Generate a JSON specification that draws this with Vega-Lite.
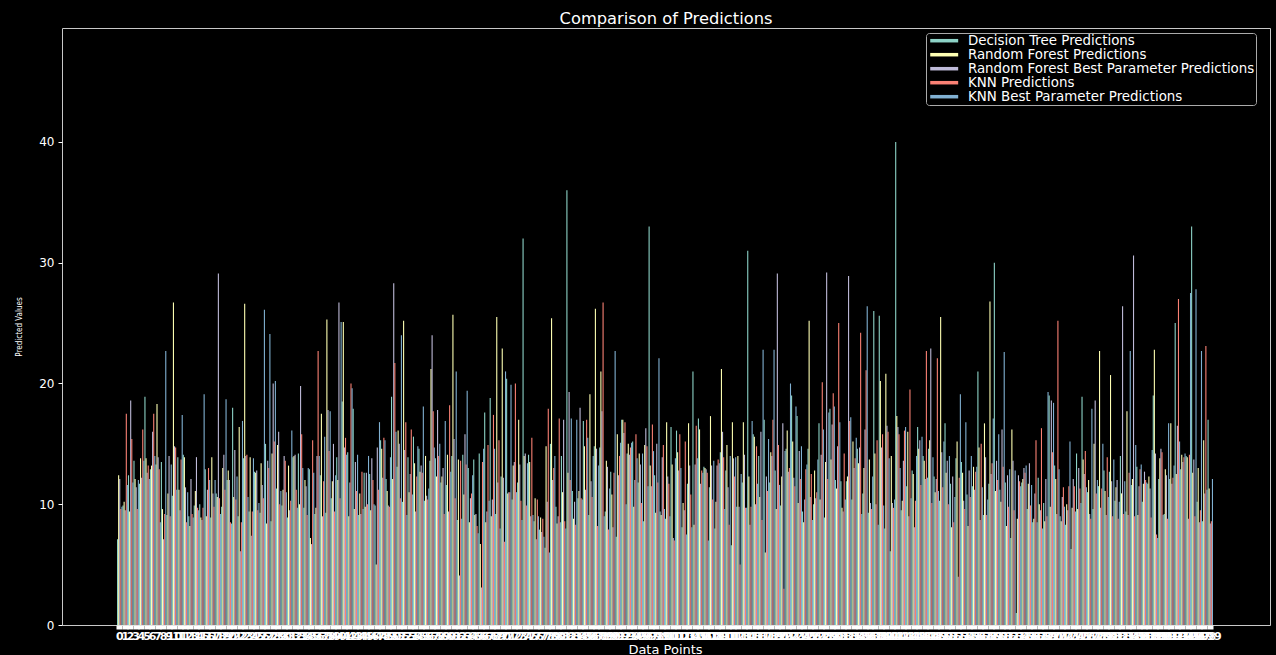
{
"$schema": "https://vega.github.io/schema/vega-lite/v6.json",
"width": 1208, "height": 597,
"autosize": {"type": "none"},
"padding": {"left": 62, "top": 28, "right": 6, "bottom": 30},
"background": "black",
"config": {"view": {"stroke": "#c8c8c8", "strokeWidth": 1, "fill": "black"}, "font": "DejaVu Sans"},
"title": {"text": "Comparison of Predictions", "color": "white", "fontSize": 16.3, "fontWeight": "normal", "offset": 1, "font": "DejaVu Sans"},
"data": {"values": [
{"i":0,"a":7.1,"b":12.4,"c":12.1,"d":9.6,"e":9.8},
{"i":1,"a":9.9,"b":10.2,"c":9.5,"d":17.5,"e":11.6},
{"i":2,"a":12.4,"b":9.4,"c":18.6,"d":15.4,"e":11.8},
{"i":3,"a":13.6,"b":12.1,"c":11.4,"d":9.6,"e":12.0},
{"i":4,"a":11.7,"b":13.8,"c":12.2,"d":16.2,"e":13.6},
{"i":5,"a":18.9,"b":13.8,"c":12.6,"d":13.2,"e":12.1},
{"i":6,"a":12.9,"b":13.2,"c":16.0,"d":17.5,"e":14.0},
{"i":7,"a":13.3,"b":18.3,"c":13.9,"d":12.9,"e":8.5},
{"i":8,"a":13.5,"b":9.6,"c":7.1,"d":9.2,"e":22.7},
{"i":9,"a":9.1,"b":10.9,"c":14.0,"d":9.0,"e":13.3},
{"i":10,"a":10.7,"b":26.7,"c":14.8,"d":14.7,"e":11.2},
{"i":11,"a":13.9,"b":11.2,"c":9.5,"d":13.7,"e":17.4},
{"i":12,"a":14.1,"b":13.9,"c":11.4,"d":8.5,"e":11.0},
{"i":13,"a":9.0,"b":8.2,"c":12.1,"d":9.2,"e":8.9},
{"i":14,"a":9.9,"b":11.1,"c":13.9,"d":9.7,"e":9.5},
{"i":15,"a":10.0,"b":8.9,"c":8.7,"d":9.7,"e":19.1},
{"i":16,"a":12.9,"b":9.0,"c":11.2,"d":13.0,"e":12.0},
{"i":17,"a":8.9,"b":13.9,"c":10.9,"d":9.8,"e":12.0},
{"i":18,"a":10.9,"b":10.6,"c":29.1,"d":10.5,"e":9.2},
{"i":19,"a":9.8,"b":13.0,"c":14.1,"d":11.2,"e":18.7},
{"i":20,"a":12.0,"b":12.8,"c":12.0,"d":8.5,"e":8.4},
{"i":21,"a":18.0,"b":10.6,"c":14.5,"d":10.4,"e":12.3},
{"i":22,"a":9.0,"b":16.4,"c":6.1,"d":8.5,"e":16.9},
{"i":23,"a":13.8,"b":26.6,"c":14.0,"d":14.1,"e":10.6},
{"i":24,"a":9.4,"b":13.9,"c":7.4,"d":9.4,"e":13.8},
{"i":25,"a":12.7,"b":12.6,"c":12.8,"d":9.5,"e":10.1},
{"i":26,"a":9.3,"b":13.4,"c":11.6,"d":10.5,"e":26.1},
{"i":27,"a":15.0,"b":8.4,"c":13.6,"d":13.0,"e":24.1},
{"i":28,"a":8.6,"b":14.2,"c":20.0,"d":15.2,"e":20.2},
{"i":29,"a":11.3,"b":14.9,"c":16.0,"d":10.0,"e":11.1},
{"i":30,"a":9.9,"b":11.2,"c":14.0,"d":13.6,"e":11.0},
{"i":31,"a":8.9,"b":13.2,"c":9.5,"d":10.3,"e":16.1},
{"i":32,"a":13.9,"b":14.0,"c":14.1,"d":11.2,"e":9.7},
{"i":33,"a":14.2,"b":10.0,"c":19.8,"d":15.8,"e":13.0},
{"i":34,"a":9.7,"b":12.0,"c":11.5,"d":9.1,"e":13.0},
{"i":35,"a":12.9,"b":7.2,"c":6.7,"d":15.3,"e":12.6},
{"i":36,"a":9.2,"b":9.7,"c":14.0,"d":22.7,"e":14.0},
{"i":37,"a":12.4,"b":17.5,"c":9.0,"d":11.9,"e":15.6},
{"i":38,"a":9.3,"b":25.3,"c":17.8,"d":14.4,"e":17.7},
{"i":39,"a":10.5,"b":11.9,"c":15.0,"d":9.4,"e":12.4},
{"i":40,"a":13.9,"b":12.0,"c":26.7,"d":10.5,"e":25.1},
{"i":41,"a":18.5,"b":25.1,"c":14.7,"d":15.5,"e":14.1},
{"i":42,"a":14.3,"b":9.0,"c":11.8,"d":20.0,"e":19.6},
{"i":43,"a":17.9,"b":9.6,"c":13.5,"d":11.1,"e":14.1},
{"i":44,"a":9.1,"b":10.9,"c":9.2,"d":12.7,"e":9.6},
{"i":45,"a":12.6,"b":9.8,"c":12.6,"d":10.0,"e":14.0},
{"i":46,"a":12.5,"b":9.5,"c":13.8,"d":12.0,"e":10.0},
{"i":47,"a":9.9,"b":5.0,"c":14.7,"d":11.2,"e":16.8},
{"i":48,"a":15.3,"b":14.6,"c":12.2,"d":15.5,"e":15.3},
{"i":49,"a":12.1,"b":11.1,"c":9.9,"d":9.8,"e":13.9},
{"i":50,"a":18.9,"b":12.1,"c":28.3,"d":21.7,"e":16.0},
{"i":51,"a":13.1,"b":16.1,"c":15.0,"d":10.5,"e":24.0},
{"i":52,"a":10.2,"b":25.2,"c":14.5,"d":16.8,"e":9.1},
{"i":53,"a":13.9,"b":11.0,"c":12.5,"d":16.2,"e":10.8},
{"i":54,"a":15.6,"b":13.4,"c":9.4,"d":12.3,"e":14.8},
{"i":55,"a":14.6,"b":12.7,"c":13.2,"d":12.6,"e":18.1},
{"i":56,"a":10.3,"b":14.0,"c":10.7,"d":10.4,"e":11.3},
{"i":57,"a":13.6,"b":21.2,"c":24.0,"d":17.7,"e":14.7},
{"i":58,"a":13.8,"b":12.3,"c":17.8,"d":14.0,"e":15.0},
{"i":59,"a":11.8,"b":12.3,"c":13.0,"d":9.2,"e":16.9},
{"i":60,"a":11.6,"b":14.1,"c":9.4,"d":18.2,"e":12.7},
{"i":61,"a":14.0,"b":25.7,"c":15.4,"d":10.5,"e":21.0},
{"i":62,"a":8.7,"b":13.7,"c":4.1,"d":13.6,"e":8.8},
{"i":63,"a":14.1,"b":10.8,"c":15.8,"d":13.3,"e":19.4},
{"i":64,"a":13.0,"b":8.5,"c":10.5,"d":10.9,"e":12.4},
{"i":65,"a":13.7,"b":9.1,"c":9.2,"d":8.2,"e":7.6},
{"i":66,"a":14.2,"b":6.7,"c":3.1,"d":13.5,"e":14.6},
{"i":67,"a":17.6,"b":8.5,"c":9.4,"d":14.9,"e":10.3},
{"i":68,"a":18.8,"b":9.0,"c":10.4,"d":17.4,"e":14.6},
{"i":69,"a":9.2,"b":25.5,"c":11.8,"d":15.3,"e":8.0},
{"i":70,"a":12.3,"b":22.9,"c":12.2,"d":6.9,"e":21.0},
{"i":71,"a":20.4,"b":10.9,"c":11.0,"d":11.0,"e":19.9},
{"i":72,"a":10.4,"b":13.2,"c":13.5,"d":20.0,"e":11.0},
{"i":73,"a":11.8,"b":17.0,"c":13.3,"d":10.3,"e":8.7},
{"i":74,"a":32.0,"b":14.0,"c":14.2,"d":9.9,"e":13.4},
{"i":75,"a":14.1,"b":13.5,"c":9.0,"d":15.5,"e":9.1},
{"i":76,"a":8.6,"b":10.5,"c":7.1,"d":10.4,"e":9.0},
{"i":77,"a":7.9,"b":8.9,"c":7.7,"d":8.8,"e":7.3},
{"i":78,"a":6.4,"b":14.8,"c":10.2,"d":17.9,"e":6.0},
{"i":79,"a":15.0,"b":25.4,"c":12.0,"d":13.0,"e":14.0},
{"i":80,"a":9.8,"b":8.4,"c":9.0,"d":17.1,"e":8.5},
{"i":81,"a":14.0,"b":11.0,"c":17.0,"d":8.6,"e":8.0},
{"i":82,"a":36.0,"b":12.6,"c":19.3,"d":12.0,"e":17.1},
{"i":83,"a":11.1,"b":8.8,"c":10.2,"d":8.3,"e":17.0},
{"i":84,"a":10.5,"b":11.1,"c":18.0,"d":10.5,"e":10.4},
{"i":85,"a":16.9,"b":14.8,"c":11.2,"d":17.0,"e":15.5},
{"i":86,"a":9.1,"b":19.1,"c":11.9,"d":10.6,"e":14.0},
{"i":87,"a":14.8,"b":26.2,"c":14.6,"d":8.2,"e":13.2},
{"i":88,"a":14.7,"b":21.0,"c":17.7,"d":26.7,"e":9.0},
{"i":89,"a":9.4,"b":13.6,"c":13.1,"d":7.9,"e":11.3},
{"i":90,"a":12.7,"b":10.8,"c":8.1,"d":12.6,"e":22.7},
{"i":91,"a":7.3,"b":15.8,"c":12.4,"d":14.0,"e":15.1},
{"i":92,"a":17.0,"b":17.0,"c":15.9,"d":16.8,"e":10.0},
{"i":93,"a":14.2,"b":15.0,"c":14.1,"d":14.7,"e":15.1},
{"i":94,"a":15.2,"b":9.8,"c":12.0,"d":15.8,"e":13.8},
{"i":95,"a":11.8,"b":14.2,"c":13.3,"d":10.1,"e":14.2},
{"i":96,"a":8.6,"b":14.9,"c":16.3,"d":14.8,"e":11.5},
{"i":97,"a":33.0,"b":13.2,"c":11.5,"d":16.6,"e":14.4},
{"i":98,"a":12.4,"b":9.3,"c":15.0,"d":11.8,"e":22.1},
{"i":99,"a":9.4,"b":9.1,"c":13.9,"d":14.9,"e":9.6},
{"i":100,"a":8.8,"b":16.8,"c":12.3,"d":11.7,"e":9.0},
{"i":101,"a":16.4,"b":13.3,"c":7.2,"d":7.0,"e":13.8},
{"i":102,"a":16.1,"b":14.3,"c":12.8,"d":15.8,"e":13.0},
{"i":103,"a":8.1,"b":10.1,"c":9.5,"d":15.2,"e":7.5},
{"i":104,"a":11.7,"b":16.7,"c":13.2,"d":10.8,"e":8.1},
{"i":105,"a":21.0,"b":8.3,"c":13.3,"d":16.5,"e":13.8},
{"i":106,"a":17.1,"b":16.2,"c":11.7,"d":12.8,"e":12.6},
{"i":107,"a":13.1,"b":13.0,"c":12.9,"d":12.6,"e":7.0},
{"i":108,"a":11.4,"b":17.3,"c":13.2,"d":10.4,"e":13.6},
{"i":109,"a":8.0,"b":10.2,"c":13.2,"d":13.7,"e":13.4},
{"i":110,"a":14.3,"b":21.2,"c":16.0,"d":13.9,"e":9.6},
{"i":111,"a":12.8,"b":14.9,"c":11.4,"d":8.3,"e":14.0},
{"i":112,"a":6.6,"b":16.8,"c":13.8,"d":12.3,"e":13.9},
{"i":113,"a":9.8,"b":14.0,"c":9.8,"d":5.0,"e":12.5},
{"i":114,"a":11.8,"b":16.8,"c":14.1,"d":9.7,"e":9.7},
{"i":115,"a":31.0,"b":12.3,"c":8.3,"d":9.8,"e":16.9},
{"i":116,"a":15.8,"b":15.6,"c":10.0,"d":14.8,"e":11.7},
{"i":117,"a":14.0,"b":10.6,"c":16.0,"d":8.7,"e":22.8},
{"i":118,"a":17.0,"b":6.0,"c":12.3,"d":11.1,"e":15.4},
{"i":119,"a":11.8,"b":14.3,"c":14.0,"d":17.0,"e":22.8},
{"i":120,"a":12.8,"b":9.6,"c":29.1,"d":14.9,"e":11.6},
{"i":121,"a":9.9,"b":12.3,"c":16.7,"d":3.0,"e":14.4},
{"i":122,"a":14.6,"b":16.1,"c":12.7,"d":13.0,"e":20.0},
{"i":123,"a":19.0,"b":15.2,"c":12.2,"d":11.5,"e":18.1},
{"i":124,"a":17.3,"b":10.1,"c":14.4,"d":12.1,"e":14.8},
{"i":125,"a":9.4,"b":8.5,"c":10.4,"d":12.9,"e":13.3},
{"i":126,"a":14.6,"b":25.2,"c":10.6,"d":12.5,"e":8.7},
{"i":127,"a":10.0,"b":12.8,"c":10.5,"d":11.0,"e":13.7},
{"i":128,"a":16.7,"b":10.4,"c":14.1,"d":20.1,"e":16.2},
{"i":129,"a":8.9,"b":13.5,"c":29.2,"d":12.1,"e":17.6},
{"i":130,"a":17.9,"b":13.7,"c":16.6,"d":19.2,"e":18.1},
{"i":131,"a":12.0,"b":11.3,"c":14.8,"d":25.0,"e":16.8},
{"i":132,"a":11.9,"b":9.7,"c":9.4,"d":14.2,"e":10.4},
{"i":133,"a":11.9,"b":12.3,"c":28.9,"d":16.9,"e":17.2},
{"i":134,"a":10.4,"b":15.2,"c":13.0,"d":13.8,"e":15.5},
{"i":135,"a":14.6,"b":13.4,"c":14.7,"d":24.2,"e":9.2},
{"i":136,"a":10.9,"b":13.0,"c":16.2,"d":21.1,"e":26.4},
{"i":137,"a":9.3,"b":13.7,"c":10.1,"d":9.6,"e":12.3},
{"i":138,"a":26.0,"b":14.2,"c":10.0,"d":15.3,"e":8.3},
{"i":139,"a":25.6,"b":20.2,"c":14.7,"d":15.8,"e":9.9},
{"i":140,"a":8.0,"b":20.8,"c":16.5,"d":16.0,"e":13.8},
{"i":141,"a":6.1,"b":14.0,"c":10.1,"d":9.7,"e":10.4},
{"i":142,"a":40.0,"b":17.3,"c":16.4,"d":15.8,"e":13.0},
{"i":143,"a":9.5,"b":10.3,"c":13.6,"d":16.1,"e":16.4},
{"i":144,"a":11.5,"b":16.0,"c":9.0,"d":19.5,"e":10.5},
{"i":145,"a":12.8,"b":12.5,"c":8.1,"d":10.3,"e":14.0},
{"i":146,"a":16.4,"b":14.6,"c":15.3,"d":11.6,"e":15.6},
{"i":147,"a":14.0,"b":13.6,"c":12.1,"d":22.7,"e":12.2},
{"i":148,"a":14.6,"b":15.3,"c":22.9,"d":10.1,"e":13.9},
{"i":149,"a":12.3,"b":11.0,"c":12.1,"d":22.1,"e":11.1},
{"i":150,"a":10.3,"b":25.5,"c":14.3,"d":11.4,"e":15.2},
{"i":151,"a":16.7,"b":12.6,"c":13.6,"d":10.0,"e":14.0},
{"i":152,"a":11.7,"b":8.1,"c":12.3,"d":8.5,"e":10.6},
{"i":153,"a":13.8,"b":15.2,"c":4.0,"d":12.2,"e":19.1},
{"i":154,"a":13.5,"b":12.6,"c":10.3,"d":9.6,"e":16.8},
{"i":155,"a":10.8,"b":8.2,"c":12.8,"d":10.6,"e":14.0},
{"i":156,"a":11.5,"b":13.1,"c":11.2,"d":12.7,"e":13.1},
{"i":157,"a":21.0,"b":14.7,"c":8.7,"d":15.0,"e":11.4},
{"i":158,"a":9.1,"b":16.7,"c":13.9,"d":9.1,"e":10.4},
{"i":159,"a":11.7,"b":26.8,"c":12.5,"d":13.4,"e":17.1},
{"i":160,"a":30.0,"b":11.1,"c":13.6,"d":12.0,"e":15.8},
{"i":161,"a":11.2,"b":10.2,"c":16.2,"d":13.1,"e":22.6},
{"i":162,"a":11.8,"b":8.2,"c":12.4,"d":9.8,"e":12.9},
{"i":163,"a":7.2,"b":16.2,"c":13.6,"d":9.5,"e":12.8},
{"i":164,"a":1.0,"b":8.8,"c":12.4,"d":11.9,"e":11.5},
{"i":165,"a":11.8,"b":12.1,"c":13.0,"d":12.6,"e":13.2},
{"i":166,"a":9.6,"b":11.7,"c":13.4,"d":9.9,"e":11.6},
{"i":167,"a":8.5,"b":8.8,"c":10.9,"d":15.3,"e":8.5},
{"i":168,"a":12.2,"b":10.0,"c":9.5,"d":16.3,"e":8.0},
{"i":169,"a":10.1,"b":8.6,"c":12.1,"d":9.0,"e":19.3},
{"i":170,"a":19.0,"b":9.8,"c":18.6,"d":14.3,"e":18.4},
{"i":171,"a":13.2,"b":12.1,"c":9.2,"d":25.2,"e":12.9},
{"i":172,"a":9.0,"b":8.6,"c":10.6,"d":11.4,"e":9.8},
{"i":173,"a":8.3,"b":10.0,"c":9.5,"d":11.5,"e":15.2},
{"i":174,"a":6.3,"b":9.7,"c":12.1,"d":11.5,"e":9.4},
{"i":175,"a":14.2,"b":9.6,"c":13.0,"d":11.3,"e":10.1},
{"i":176,"a":18.9,"b":13.7,"c":12.5,"d":14.4,"e":11.4},
{"i":177,"a":11.0,"b":12.0,"c":9.2,"d":8.8,"e":17.9},
{"i":178,"a":9.6,"b":15.0,"c":18.6,"d":10.9,"e":12.0},
{"i":179,"a":11.5,"b":22.7,"c":9.7,"d":11.3,"e":15.0},
{"i":180,"a":12.8,"b":11.1,"c":9.1,"d":13.9,"e":10.6},
{"i":181,"a":12.7,"b":20.7,"c":11.9,"d":9.0,"e":13.7},
{"i":182,"a":10.3,"b":11.4,"c":12.0,"d":8.8,"e":10.2},
{"i":183,"a":14.0,"b":10.9,"c":26.4,"d":9.2,"e":11.9},
{"i":184,"a":9.4,"b":17.7,"c":9.1,"d":12.6,"e":22.7},
{"i":185,"a":11.6,"b":12.1,"c":30.6,"d":9.0,"e":14.9},
{"i":186,"a":13.1,"b":9.1,"c":11.5,"d":12.9,"e":13.3},
{"i":187,"a":10.2,"b":11.7,"c":12.7,"d":12.0,"e":11.8},
{"i":188,"a":11.7,"b":12.3,"c":11.3,"d":8.9,"e":14.5},
{"i":189,"a":19.0,"b":22.8,"c":14.2,"d":7.5,"e":7.2},
{"i":190,"a":12.1,"b":13.8,"c":14.6,"d":14.3,"e":9.1},
{"i":191,"a":9.2,"b":12.9,"c":12.4,"d":8.8,"e":16.7},
{"i":192,"a":12.1,"b":16.7,"c":11.7,"d":12.2,"e":13.2},
{"i":193,"a":25.0,"b":12.5,"c":16.5,"d":27.0,"e":15.2},
{"i":194,"a":12.9,"b":14.1,"c":13.5,"d":13.9,"e":14.2},
{"i":195,"a":14.0,"b":13.9,"c":8.8,"d":14.1,"e":27.5},
{"i":196,"a":33.0,"b":12.6,"c":13.7,"d":9.0,"e":27.8},
{"i":197,"a":10.2,"b":13.0,"c":8.5,"d":9.5,"e":22.7},
{"i":198,"a":8.6,"b":15.3,"c":10.9,"d":23.1,"e":11.2},
{"i":199,"a":17.0,"b":11.3,"c":8.4,"d":8.6,"e":12.1}
]},
"transform": [{"fold": ["a","b","c","d","e"], "as": ["s","v"]}],
"mark": {"type": "bar"},
"encoding": {
  "x": {"field": "i", "type": "ordinal", "sort": "ascending",
    "scale": {"paddingInner": 0, "paddingOuter": 0, "range": [55, 1151]},
    "axis": {"title": "Data Points", "titleColor": "white", "titleFontSize": 13, "titleFontWeight": "normal", "titlePadding": 2,
      "labelColor": "white", "labelFontSize": 11, "labelFontWeight": "bold", "labelAngle": 0, "labelOverlap": false, "labelPadding": 1,
      "tickColor": "white", "tickSize": 4, "tickWidth": 6, "domain": false}},
  "xOffset": {"field": "s", "type": "nominal", "scale": {"paddingInner": 0, "paddingOuter": 0}},
  "y": {"field": "v", "type": "quantitative", "scale": {"domain": [0, 49.44], "nice": false, "zero": true},
    "axis": {"title": "Predicted Values", "titleColor": "white", "titleFont": "DejaVu Sans Condensed", "titleFontSize": 8, "titleFontWeight": "normal", "titleX": -43, "titleBaseline": "middle",
      "labelColor": "white", "labelFontSize": 12, "values": [0,10,20,30,40], "grid": false, "domain": false,
      "tickColor": "white", "tickSize": 4, "labelPadding": 4}},
  "color": {"field": "s", "type": "nominal",
    "scale": {"domain": ["a","b","c","d","e"], "range": ["#8dd3c7","#feffb3","#bfbbd9","#fa8174","#81b1d2"]},
    "legend": {"title": null, "orient": "none", "legendX": 864, "legendY": 5, "direction": "vertical",
      "fillColor": "black", "strokeColor": "#aaaaaa", "cornerRadius": 3, "padding": 1,
      "labelColor": "white", "labelFontSize": 13.4, "labelFont": "DejaVu Sans", "labelOffset": 17, "rowPadding": -1.4, "labelLimit": 400,
      "symbolType": "M-2.15,-0.27H2.15V0.27H-2.15Z", "symbolSize": 169, "symbolOffset": 10.5, "symbolStrokeWidth": 0, "symbolOpacity": 1,
      "labelExpr": "{'a':'Decision Tree Predictions','b':'Random Forest Predictions','c':'Random Forest Best Parameter Predictions','d':'KNN Predictions','e':'KNN Best Parameter Predictions'}[datum.label]"}}
}
}
